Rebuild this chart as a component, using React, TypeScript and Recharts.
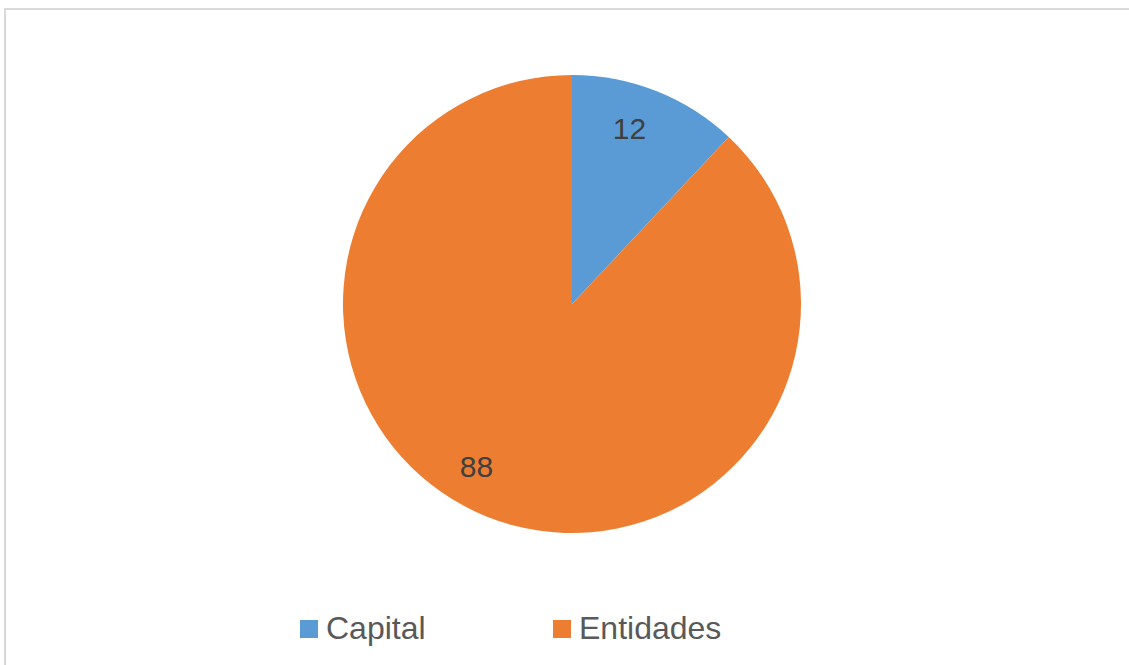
import { PieChart, Pie, Cell, Legend } from "recharts";

const categories = ["Capital", "Entidades"];
const values = [12, 88];
const colors = ["#5B9BD5", "#ED7D31"];
// small per-label nudges to mimic the original label placement
const labelNudge = [[-10, -5], [-28, -8]];

const data = categories.map((name, i) => ({ name, value: values[i] }));

const RADIAN = Math.PI / 180;
const FONT = "Liberation Sans, Arial, sans-serif";

const renderLabel = (p: any) => {
  const r = p.outerRadius * 0.8;
  const [nx, ny] = labelNudge[p.index] || [0, 0];
  const x = p.cx + r * Math.cos(-p.midAngle * RADIAN) + nx;
  const y = p.cy + r * Math.sin(-p.midAngle * RADIAN) + ny;
  return (
    <text x={x} y={y} fill="#404040" fontSize={30} fontFamily={FONT}
      textAnchor="middle" dominantBaseline="central">
      {p.value}
    </text>
  );
};

const renderLegend = () => (
  <div style={{ display: "flex", fontFamily: FONT, fontSize: 32, color: "#595959" }}>
    {categories.map((c, i) => (
      <div key={c} style={{ display: "flex", alignItems: "center", width: 253 }}>
        <span style={{ display: "inline-block", width: 18, height: 18, background: colors[i], marginRight: 8 }} />
        <span>{c}</span>
      </div>
    ))}
  </div>
);

export default function App() {
  return (
    <div style={{ position: "fixed", left: 0, top: 0, width: 1129, height: 665, overflow: "hidden", background: "#fff" }}>
      <div style={{ position: "absolute", left: 4, top: 8, width: 1140, height: 680, border: "2px solid #d9d9d9", boxSizing: "border-box" }} />
      <div style={{ position: "absolute", left: 0, top: 0 }}>
        <PieChart width={1129} height={665}>
          <Pie data={data} dataKey="value" nameKey="name" cx={567} cy={299} outerRadius={229}
            startAngle={90} endAngle={-270} stroke="none" labelLine={false}
            label={renderLabel} isAnimationActive={false}>
            {data.map((d, i) => <Cell key={d.name} fill={colors[i]} />)}
          </Pie>
          <Legend content={renderLegend} wrapperStyle={{ left: 300, top: 610, width: 600 }} />
        </PieChart>
      </div>
    </div>
  );
}
